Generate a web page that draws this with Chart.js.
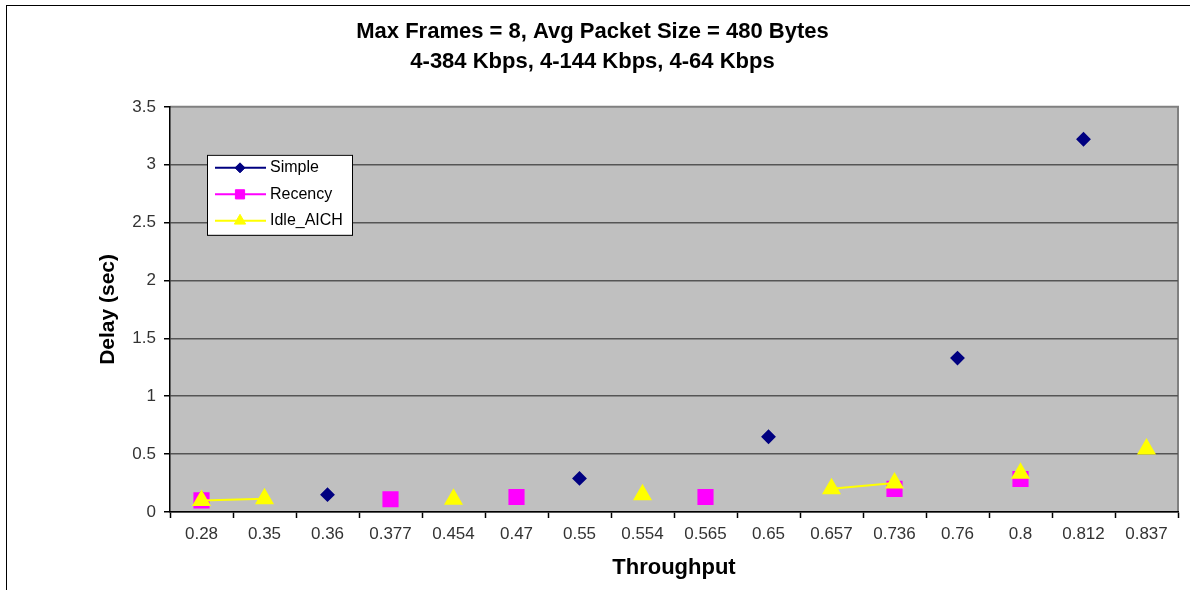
<!DOCTYPE html>
<html>
<head>
<meta charset="utf-8">
<script src="https://cdn.jsdelivr.net/npm/chart.js@4.4.1/dist/chart.umd.min.js"></script>
<style>
  html, body { margin: 0; padding: 0; background: #fff; }
  #wrap { position: relative; width: 1190px; height: 590px; }
</style>
</head>
<body>
<div id="wrap"><canvas id="delayChart" width="1190" height="590"></canvas></div>
<script>
// throughput categories (x axis) and delay values per scheme, null = no point
const categories = ['0.28', '0.35', '0.36', '0.377', '0.454', '0.47', '0.55', '0.554', '0.565', '0.65', '0.657', '0.736', '0.76', '0.8', '0.812', '0.837'];
const simple   = [0.12, null, 0.15, null, null, null, 0.29, null, null, 0.65, null, null, 1.33, null, 3.22, null];
const recency  = [0.10, null, null, 0.11, null, 0.13, null, null, 0.13, null, null, 0.20, null, 0.285, null, null];
const idleAich = [0.10, 0.115, null, null, 0.11, null, null, 0.15, null, null, 0.20, 0.25, null, 0.335, null, 0.545];
const titleLines = ['Max Frames = 8, Avg Packet Size = 480 Bytes', '4-384 Kbps, 4-144 Kbps, 4-64 Kbps'];

document.addEventListener('DOMContentLoaded', function() {
    const font = '"Liberation Sans", Arial, sans-serif';

    // grey plot area, outer frame
    const plotBackground = {
        id: 'plotBackground',
        beforeDraw(chart) {
            const ctx = chart.ctx;
            const a = chart.chartArea;
            ctx.save();
            ctx.fillStyle = '#fff';
            ctx.fillRect(0, 0, chart.width, chart.height);
            ctx.strokeStyle = '#000';
            ctx.lineWidth = 1;
            ctx.strokeRect(6.5, 5.5, chart.width + 20, chart.height + 20);
            ctx.fillStyle = '#c0c0c0';
            ctx.fillRect(a.left, a.top, a.right - a.left, a.bottom - a.top);
            ctx.strokeStyle = '#808080';
            ctx.lineWidth = 2;
            ctx.beginPath();
            ctx.moveTo(a.left, a.top);
            ctx.lineTo(a.right, a.top);
            ctx.lineTo(a.right, a.bottom);
            ctx.stroke();
            ctx.restore();
        }
    };

    // excel style legend box inside the plot
    const boxLegend = {
        id: 'boxLegend',
        afterDraw(chart) {
            const ctx = chart.ctx;
            const a = chart.chartArea;
            const x0 = a.left + 37, y0 = a.top + 48;
            const sizes = [5, 6.5, 6.5];
            ctx.save();
            ctx.fillStyle = '#fff';
            ctx.fillRect(x0, y0, 145, 80);
            ctx.strokeStyle = '#000';
            ctx.lineWidth = 1;
            ctx.strokeRect(x0 + 0.5, y0 + 0.5, 145, 80);
            chart.data.datasets.forEach((ds, i) => {
                const y = y0 + 13 + i * 26.5;
                ctx.strokeStyle = ds.borderColor;
                ctx.lineWidth = 2;
                ctx.beginPath();
                ctx.moveTo(x0 + 8, y);
                ctx.lineTo(x0 + 59, y);
                ctx.stroke();
                ctx.fillStyle = ds.pointBackgroundColor;
                ctx.strokeStyle = ds.pointBackgroundColor;
                ctx.lineWidth = 1;
                Chart.helpers.drawPoint(ctx, { pointStyle: ds.pointStyle, radius: sizes[i], rotation: 0, borderWidth: 1 }, x0 + 33, y);
                ctx.fillStyle = '#000';
                ctx.font = '16px ' + font;
                ctx.textBaseline = 'middle';
                ctx.textAlign = 'left';
                ctx.fillText(ds.label, x0 + 63, y);
            });
            ctx.restore();
        }
    };

    new Chart(document.getElementById('delayChart'), {
        type: 'line',
        data: {
            labels: categories,
            datasets: [
                { label: 'Simple', data: simple, borderColor: '#000080', pointBackgroundColor: '#000080', pointBorderColor: '#000080',
                  pointStyle: 'rectRot', pointRadius: 6, borderWidth: 2, order: 2 },
                { label: 'Recency', data: recency, borderColor: '#ff00ff', pointBackgroundColor: '#ff00ff', pointBorderColor: '#ff00ff',
                  pointStyle: 'rect', pointRadius: 10, borderWidth: 2, order: 1 },
                { label: 'Idle_AICH', data: idleAich, borderColor: '#ffff00', pointBackgroundColor: '#ffff00', pointBorderColor: '#ffff00',
                  pointStyle: 'triangle', pointRadius: 9, borderWidth: 2, order: 0 }
            ]
        },
        options: {
            responsive: false,
            animation: false,
            spanGaps: false,
            layout: { padding: { left: 0, right: 5, top: 0, bottom: 0 } },
            plugins: {
                legend: { display: false },
                tooltip: { enabled: false },
                title: {
                    display: true,
                    text: titleLines,
                    color: '#000',
                    font: { family: font, size: 22, weight: 'bold', lineHeight: 1.36 },
                    padding: { top: 17, bottom: 30 }
                }
            },
            scales: {
                x: {
                    offset: true,
                    grid: { offset: true, drawOnChartArea: false, tickLength: 6, tickColor: '#000', tickWidth: 1.5 },
                    border: { color: '#000', width: 1.5 },
                    ticks: { color: '#333', font: { family: font, size: 17 }, padding: 6, maxRotation: 0, autoSkip: false },
                    title: { display: true, text: 'Throughput', color: '#000', font: { family: font, size: 22, weight: 'bold' }, padding: { top: 0, bottom: 9 } },
                    afterFit(scale) { scale.height = 78; }
                },
                y: {
                    min: 0,
                    max: 3.5,
                    ticks: { stepSize: 0.5, color: '#333', font: { family: font, size: 17 }, padding: 8, callback: v => String(v) },
                    grid: {
                        color: ctx => ctx.tick && ctx.tick.value === 3.5 ? 'rgba(0,0,0,0)' : '#555',
                        lineWidth: 1.5,
                        tickLength: 6,
                        tickColor: '#000'
                    },
                    border: { color: '#000', width: 1.5 },
                    title: { display: true, text: 'Delay (sec)', color: '#000', font: { family: font, size: 21, weight: 'bold' }, padding: { top: 96, bottom: 0 } },
                    afterFit(scale) { scale.width = 170; }
                }
            }
        },
        plugins: [plotBackground, boxLegend]
    });
});
</script>
</body>
</html>
